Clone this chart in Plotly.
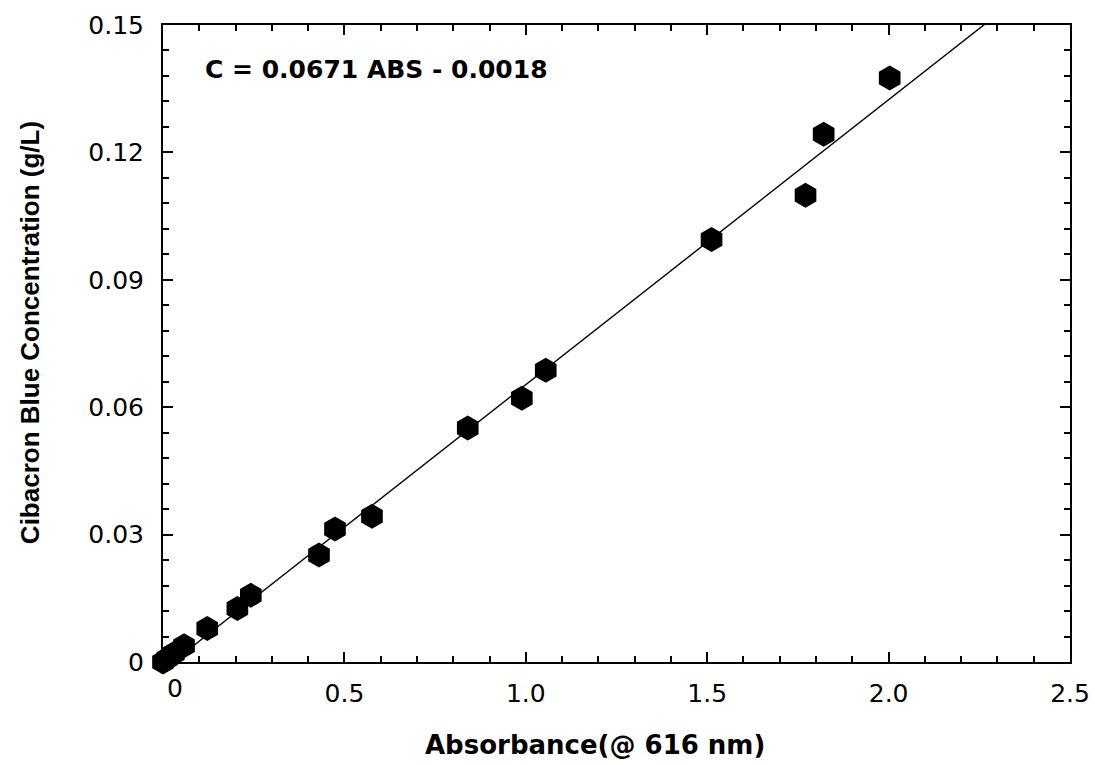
import plotly.graph_objects as go

# Data
absorbance = [0.0, 0.012, 0.03, 0.058, 0.122, 0.205, 0.242, 0.43, 0.474, 0.576,
              0.840, 0.989, 1.055, 1.512, 1.771, 1.821, 2.003]
concentration = [0.0, 0.0008, 0.002, 0.0038, 0.0079, 0.0126, 0.0157, 0.0252, 0.0313, 0.0343,
                 0.0551, 0.0621, 0.0687, 0.0995, 0.1099, 0.1243, 0.1375]
slope = 0.0671
intercept = -0.0018
fit_x = [0.0, 2.5]
fit_y = [slope * v + intercept for v in fit_x]

x_tickvals = [0, 0.5, 1.0, 1.5, 2.0, 2.5]
x_ticktext = ["", "0.5", "1.0", "1.5", "2.0", "2.5"]
y_tickvals = [0, 0.03, 0.06, 0.09, 0.12, 0.15]
y_ticktext = ["0", "0.03", "0.06", "0.09", "0.12", "0.15"]

FONT = "DejaVu Sans"
FONT_V = "Liberation Sans"

fig = go.Figure()
fig.add_trace(go.Scatter(x=fit_x, y=fit_y, mode="lines",
                         line=dict(color="black", width=1.4), showlegend=False,
                         hoverinfo="skip"))
fig.add_trace(go.Scatter(x=absorbance, y=concentration, mode="markers",
                         marker=dict(symbol="hexagon", size=25, color="black",
                                     line=dict(width=0)),
                         cliponaxis=False, showlegend=False))

axis_common = dict(showgrid=False, zeroline=False, showline=True, linecolor="black",
                   linewidth=2, mirror="allticks", ticks="inside", ticklen=10,
                   tickwidth=1.5, tickcolor="black", automargin=False,
                   tickfont=dict(family=FONT, size=25, color="black"))

fig.update_xaxes(range=[0, 2.5], tickvals=x_tickvals, ticktext=x_ticktext,
                 ticklabelstandoff=8,
                 minor=dict(ticks="inside", ticklen=6, tickwidth=1.5, tickcolor="black",
                            dtick=0.1, tick0=0),
                 **axis_common)
fig.update_yaxes(range=[0, 0.15], tickvals=y_tickvals, ticktext=y_ticktext,
                 ticklabelstandoff=12,
                 minor=dict(ticks="inside", ticklen=6, tickwidth=1.5, tickcolor="black",
                            dtick=0.006, tick0=0),
                 **axis_common)

fig.update_layout(
    width=1095, height=765,
    margin=dict(l=163, r=25, t=25, b=103),
    plot_bgcolor="white", paper_bgcolor="white",
    annotations=[
        dict(text="<b>C = 0.0671 ABS - 0.0018</b>", xref="paper", yref="paper",
             x=(203 - 163) / 907, y=1 - (69 - 25) / 636.7, xanchor="left", yanchor="middle",
             showarrow=False, font=dict(family=FONT, size=25, color="black")),
        dict(text="0", xref="x", yref="paper", x=0, y=0, xshift=12, yshift=-10,
             xanchor="center", yanchor="top", showarrow=False,
             font=dict(family=FONT, size=25, color="black")),
        dict(text="<b>Absorbance(@ 616 nm)</b>", xref="paper", yref="paper",
             x=(595 - 163) / 907, y=-(745 - 661.7) / 636.7, xanchor="center", yanchor="middle",
             showarrow=False, font=dict(family=FONT, size=26, color="black")),
        dict(text="<b>Cibacron Blue Concentration (g/L)</b>", xref="paper", yref="paper",
             x=-(163 - 30) / 907, y=1 - (333 - 25) / 636.7, xanchor="center", yanchor="middle",
             textangle=-90, showarrow=False, font=dict(family=FONT_V, size=26, color="black")),
    ],
)

fig.write_html("out.html")
